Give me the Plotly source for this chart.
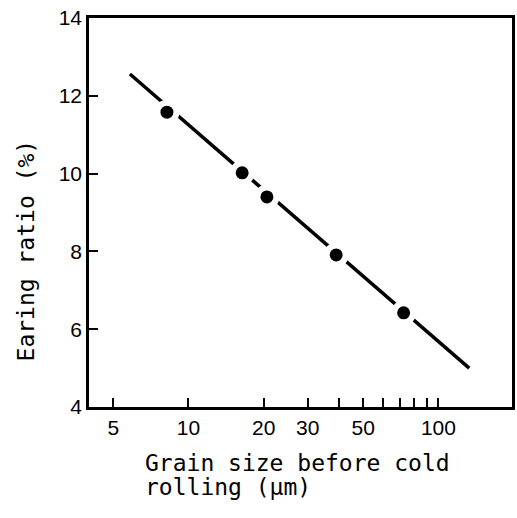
import numpy as np
import plotly.graph_objects as go

# measured points
grain_size = [8.2, 16.4, 20.6, 39.0, 72.6]
earing_ratio = [11.58, 10.02, 9.40, 7.91, 6.42]

# fitted line ends
fit_x = [5.83, 132.8]
fit_y = [12.56, 5.0]

x_tickvals = [5, 10, 20, 30, 40, 50, 60, 70, 80, 90, 100]
x_ticktext = ["5", "10", "20", "30", "", "50", "", "", "", "", "100"]
y_tickvals = [4, 6, 8, 10, 12, 14]

W, H = 517, 518
L, R, T, B = 89, 2, 18, 111
pw, ph = W - L - R, H - T - B


def px_x(p):
    return (p - L) / pw


def px_y(p):
    return (H - B - p) / ph


fig = go.Figure()
fig.add_trace(go.Scatter(
    x=fit_x, y=fit_y, mode="lines",
    line=dict(color="black", width=3.5),
    showlegend=False,
))
fig.add_trace(go.Scatter(
    x=grain_size, y=earing_ratio, mode="markers",
    marker=dict(color="black", size=19, line=dict(color="white", width=6)),
    showlegend=False,
))

fig.update_layout(
    width=W, height=H,
    margin=dict(l=L, r=R, t=T, b=B),
    paper_bgcolor="white", plot_bgcolor="white",
    font=dict(family="Liberation Sans, Arial, sans-serif", color="black", size=21),
)
fig.update_xaxes(
    type="log", range=[np.log10(4.0), np.log10(197)],
    tickvals=x_tickvals, ticktext=x_ticktext,
    ticks="inside", ticklen=9, tickwidth=2, tickcolor="black",
    showline=True, linecolor="black", linewidth=2.5, mirror=True,
    showgrid=False, zeroline=False,
)
fig.update_yaxes(
    range=[4, 14], tickvals=y_tickvals,
    ticks="inside", ticklen=9, tickwidth=2, tickcolor="black",
    showline=True, linecolor="black", linewidth=2.5, mirror=True,
    showgrid=False, zeroline=False,
)

title_font = dict(family="DejaVu Sans Mono, monospace", size=23, color="black")
fig.add_annotation(
    text="Grain size before cold",
    xref="paper", yref="paper", x=px_x(143), y=px_y(448),
    xanchor="left", yanchor="top",
    showarrow=False, font=title_font,
)
fig.add_annotation(
    text="rolling (\u00b5m)",
    xref="paper", yref="paper", x=px_x(143), y=px_y(472),
    xanchor="left", yanchor="top",
    showarrow=False, font=title_font,
)
fig.add_annotation(
    text="Earing ratio (%)",
    xref="paper", yref="paper", x=px_x(26), y=px_y(250),
    xanchor="center", yanchor="middle", textangle=-90,
    showarrow=False, font=title_font,
)

fig.write_html(
    "out.html",
    config={"displayModeBar": False},
    post_script="document.body.style.margin='0';document.body.style.overflow='hidden';",
)
